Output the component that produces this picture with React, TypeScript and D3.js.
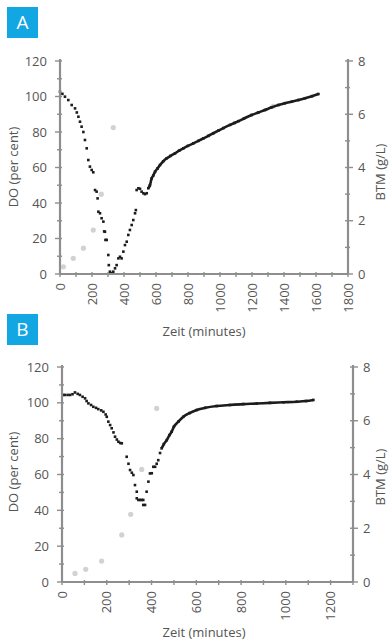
import React from "react";
import * as d3 from "d3";

// ---------- Panel A data ----------
const A_TIME = [0, 15, 31, 52, 73, 94, 105, 115, 125, 135, 146, 156, 167, 177, 187, 198, 208, 219, 229, 235, 240, 250, 260, 271, 276, 281, 284, 292, 302, 305, 312, 322, 333, 344, 354, 365, 375, 385, 396, 406, 417, 427, 437, 448, 458, 469, 474, 479, 490, 500, 510, 521, 531, 542, 552, 562, 573, 583, 594, 610, 625, 645, 667, 690, 719, 745, 771, 800, 833, 865, 896, 927, 958, 990, 1021, 1063, 1090, 1115, 1150, 1198, 1240, 1281, 1320, 1365, 1405, 1448, 1490, 1531, 1575, 1615];
const A_DO = [102.7, 101.5, 99.9, 98, 95.2, 93.3, 91, 88.6, 85.8, 83, 80, 75.5, 70.8, 64.2, 60.5, 58.6, 57.3, 47.3, 46.4, 42.6, 35.1, 34.2, 31.4, 29.5, 24, 23.8, 19.2, 19.2, 10.7, 5, 1.3, 0.5, 1.3, 3.2, 5, 8.8, 9.7, 8.8, 12.6, 16.3, 18.2, 22, 24.8, 27.6, 30.4, 34.2, 36, 47.3, 48.3, 48, 46.4, 45.5, 45, 45.5, 48.3, 50, 53.9, 55.5, 57.6, 59.5, 61.4, 63.5, 65.2, 66.5, 68, 69.5, 70.8, 72.2, 73.6, 75, 76.4, 77.8, 79.3, 80.8, 82.2, 84, 85.1, 86.1, 87.6, 89.6, 91, 92.4, 93.8, 95.2, 96.2, 97.1, 98, 99, 100.2, 101.4];
const A_BTM_TIME = [21, 83, 146, 208, 258, 333, 1333];
const A_BTM = [0.27, 0.59, 0.97, 1.65, 3.0, 5.5, 6.3];

// ---------- Panel B data ----------
const B_TIME = [5, 13, 25, 36, 47, 58, 70, 80, 92, 103, 110, 118, 130, 140, 152, 162, 175, 185, 195, 200, 207, 215, 222, 230, 237, 245, 252, 260, 267, 289, 297, 304, 312, 319, 326, 334, 334, 341, 349, 356, 363, 363, 371, 378, 386, 393, 401, 408, 416, 423, 430, 438, 445, 455, 468, 480, 490, 500, 520, 542, 570, 602, 640, 691, 750, 810, 870, 929, 990, 1049, 1090, 1123];
const B_DO = [104.4, 104.4, 104.4, 104.4, 104.8, 105.8, 105, 104.4, 103.4, 102.5, 101, 99.7, 98.8, 97.8, 97.2, 96.5, 95.8, 95, 93.5, 92.2, 89.5, 87.6, 85.8, 83.5, 81.1, 79.5, 78.3, 77.6, 77.4, 69.9, 66, 62.5, 61, 59.7, 54.1, 50.4, 46.7, 45.8, 45.8, 45.8, 45.8, 43, 43, 50.4, 56, 60.6, 60.7, 64.3, 64.3, 66, 68, 72, 74.6, 77, 79.2, 82, 83.9, 86.7, 89.5, 92.2, 94.3, 96, 97.2, 98.2, 98.8, 99.3, 99.6, 100, 100.3, 100.6, 101, 101.6];
const B_BTM_TIME = [58, 106, 177, 267, 307, 356, 423];
const B_BTM = [0.32, 0.47, 0.78, 1.75, 2.52, 4.19, 6.46];

// ---------- ticks ----------
const X_TICKS_A = [0, 200, 400, 600, 800, 1000, 1200, 1400, 1600, 1800];
const X_TICKS_B = [0, 200, 400, 600, 800, 1000, 1200];
const DO_TICKS = [0, 20, 40, 60, 80, 100, 120];
const BTM_TICKS = [0, 2, 4, 6, 8];

const FONT = "'Open Sans', 'Noto Sans', sans-serif";
const AXIS = "#8e8e8e";
const TXT = "#555";

type PanelProps = {
  letter: string;
  boxY: number;
  x0: number;
  x1: number;
  xMax: number;
  yTop: number;
  yBot: number;
  xTicks: number[];
  time: number[];
  dov: number[];
  lineFrom: number;
  btmTime: number[];
  btm: number[];
  leftLabelX: number;
  xTitleY: number;
  yTitleCenter: number;
};

function Panel(p: PanelProps) {
  const x = d3.scaleLinear().domain([0, p.xMax]).range([p.x0, p.x1]);
  const y = d3.scaleLinear().domain([0, 120]).range([p.yBot, p.yTop]);
  const y2 = d3.scaleLinear().domain([0, 8]).range([p.yBot, p.yTop]);

  const pts = p.time.map((t, i) => [t, p.dov[i]] as [number, number]);
  const linePts = pts.filter((d) => d[0] >= p.lineFrom);
  const line = d3
    .line<[number, number]>()
    .x((d) => x(d[0]))
    .y((d) => y(d[1]))
    .curve(d3.curveMonotoneX);

  const minorX = d3.range(0, p.xMax + 1, 100);
  const minorY = d3.range(0, 121, 10);
  const minorY2 = d3.range(0, 9, 1);

  return (
    <g>
      <rect x={7} y={p.boxY} width={31} height={31} fill="#12a6e2" />
      <text x={22.5} y={p.boxY + 22} textAnchor="middle" fill="#fff" fontFamily={FONT} fontSize={19}>
        {p.letter}
      </text>

      {/* BTM points */}
      {p.btmTime.map((t, i) => (
        <circle key={"b" + i} cx={x(t)} cy={y2(p.btm[i])} r={2.6} fill="#d2d2d2" />
      ))}

      {/* DO continuous part */}
      <path d={line(linePts) || ""} fill="none" stroke="#1c1c1c" strokeWidth={2.6} />
      {pts.map((d, i) => (
        <rect key={"d" + i} x={x(d[0]) - 1.3} y={y(d[1]) - 1.3} width={2.6} height={2.6} fill="#1c1c1c" />
      ))}

      {/* left axis */}
      <line x1={p.x0} x2={p.x0} y1={y(120) - 2} y2={p.yBot} stroke={AXIS} strokeWidth={2.2} />
      {minorY.map((v) => (
        <line key={"ly" + v} x1={p.x0 - (v % 20 === 0 ? 5 : 3)} x2={p.x0 + 2} y1={y(v)} y2={y(v)} stroke={AXIS} strokeWidth={1.4} />
      ))}
      {DO_TICKS.map((v) => (
        <text key={"lt" + v} x={p.leftLabelX} y={y(v)} dy="0.35em" textAnchor="end" fill={TXT} fontFamily={FONT} fontSize={13}>
          {v}
        </text>
      ))}

      {/* right axis */}
      <line x1={p.x1} x2={p.x1} y1={y2(8) - 2} y2={p.yBot} stroke={AXIS} strokeWidth={2.2} />
      {minorY2.map((v) => (
        <line key={"ry" + v} x1={p.x1 - 3} x2={p.x1 + (v % 2 === 0 ? 5 : 2)} y1={y2(v)} y2={y2(v)} stroke={AXIS} strokeWidth={1.4} />
      ))}
      {BTM_TICKS.map((v) => (
        <text key={"rt" + v} x={p.x1 + 10} y={y2(v)} dy="0.35em" textAnchor="start" fill={TXT} fontFamily={FONT} fontSize={13}>
          {v}
        </text>
      ))}

      {/* x axis */}
      <line x1={p.x0} x2={p.x1} y1={p.yBot} y2={p.yBot} stroke={AXIS} strokeWidth={2.2} />
      {minorX.map((v) => (
        <line key={"mx" + v} x1={x(v)} x2={x(v)} y1={p.yBot - 2} y2={p.yBot + 3} stroke={AXIS} strokeWidth={1.4} />
      ))}
      {p.xTicks.map((v) => (
        <text
          key={"xt" + v}
          transform={`translate(${x(v)},${p.yBot + 9}) rotate(-90)`}
          dy="0.35em"
          textAnchor="end"
          fill={TXT}
          fontFamily={FONT}
          fontSize={13}
        >
          {v}
        </text>
      ))}

      {/* titles */}
      <text x={204} y={p.xTitleY} textAnchor="middle" fill={TXT} fontFamily={FONT} fontSize={13}>
        Zeit (minutes)
      </text>
      <text
        transform={`translate(13,${p.yTitleCenter}) rotate(-90)`}
        dy="0.35em"
        textAnchor="middle"
        fill={TXT}
        fontFamily={FONT}
        fontSize={13}
      >
        DO (per cent)
      </text>
      <text
        transform={`translate(380,${p.yTitleCenter + 5}) rotate(-90)`}
        dy="0.35em"
        textAnchor="middle"
        fill={TXT}
        fontFamily={FONT}
        fontSize={13}
      >
        BTM (g/L)
      </text>
    </g>
  );
}

export default function App() {
  return (
    <svg
      width={389}
      height={642}
      style={{ position: "absolute", left: 0, top: 0, background: "#fff" }}
    >
      <Panel
        letter="A"
        boxY={7}
        x0={60}
        x1={348}
        xMax={1800}
        yTop={61}
        yBot={274}
        xTicks={X_TICKS_A}
        time={A_TIME}
        dov={A_DO}
        lineFrom={545}
        btmTime={A_BTM_TIME}
        btm={A_BTM}
        leftLabelX={47}
        xTitleY={336}
        yTitleCenter={167}
      />
      <Panel
        letter="B"
        boxY={314}
        x0={62}
        x1={353}
        xMax={1300}
        yTop={367}
        yBot={582}
        xTicks={X_TICKS_B}
        time={B_TIME}
        dov={B_DO}
        lineFrom={440}
        btmTime={B_BTM_TIME}
        btm={B_BTM}
        leftLabelX={49}
        xTitleY={637}
        yTitleCenter={472}
      />
    </svg>
  );
}
